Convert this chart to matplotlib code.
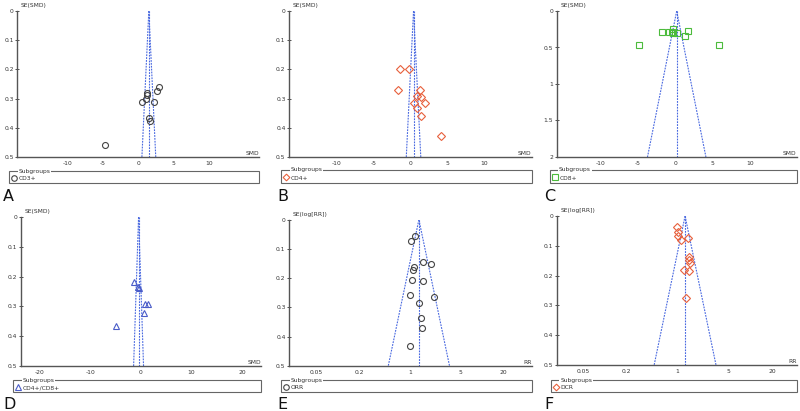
import numpy as np
import matplotlib
matplotlib.use('Agg')
import matplotlib.pyplot as plt
from matplotlib.patches import Rectangle
from matplotlib.lines import Line2D

# Panel A - CD3+
a_smd = [2.96, 2.63, 1.22, 1.31, 1.17, 0.52, 2.21, 1.55, 1.74, -4.69]
a_se = [0.260, 0.274, 0.281, 0.288, 0.301, 0.313, 0.310, 0.366, 0.377, 0.459]
a_center = 1.51
# Panel B - CD4+
b_smd = [-1.40, -0.18, -1.67, 1.35, 0.86, 1.44, 0.54, 1.94, 0.86, 1.49, 4.10]
b_se = [0.199, 0.200, 0.272, 0.269, 0.291, 0.293, 0.315, 0.315, 0.331, 0.360, 0.429]
b_center = 0.43
# Panel C - CD8+
c_smd = [-4.91, 5.89, -1.74, -0.85, -0.36, -0.40, -0.27, 0.18, 1.34, 1.74]
c_se = [0.465, 0.460, 0.290, 0.283, 0.250, 0.290, 0.305, 0.305, 0.337, 0.273]
c_center = 0.2
# Panel D - CD4+/CD8+
d_smd = [-1.32, -0.66, -0.39, 0.72, 1.32, 0.53, -5.0]
d_se = [0.217, 0.234, 0.239, 0.291, 0.292, 0.323, 0.367]
d_center = -0.45
# Panel E - ORR
e_rr = [1.17, 1.04, 1.53, 1.94, 1.15, 1.11, 1.05, 1.53, 0.99, 2.13, 1.33, 1.41, 1.48, 0.99]
e_se = [0.054, 0.072, 0.146, 0.151, 0.163, 0.173, 0.205, 0.210, 0.257, 0.265, 0.286, 0.336, 0.371, 0.432]
e_center = 1.33
# Panel F - DCR
f_rr = [0.99, 1.03, 1.02, 1.11, 1.42, 1.43, 1.46, 1.51, 1.25, 1.45, 1.30]
f_se = [0.036, 0.053, 0.067, 0.082, 0.073, 0.139, 0.149, 0.158, 0.181, 0.183, 0.276]
f_center = 1.28

W, H = 800, 411
fig = plt.figure(figsize=(W / 100, H / 100), dpi=100)
fig.patch.set_facecolor('white')

axis_col = '#555555'
funnel_col = '#4868e0'
fs = 4.3


def px_axes(left, top, right, bottom):
    return fig.add_axes([left / W, 1 - bottom / H, (right - left) / W, (bottom - top) / H])


def legend_box(left, right, top, bottom, marker, color, label):
    mid = (top + bottom) / 2
    fig.add_artist(Rectangle((left / W, 1 - bottom / H), (right - left) / W, (bottom - top) / H,
                             transform=fig.transFigure, fill=False, edgecolor='#666666', lw=0.8))
    fig.text((left + 9.5) / W, 1 - top / H, 'Subgroups', fontsize=4.3, color='#333333',
             va='center', ha='left', zorder=5,
             bbox=dict(facecolor='white', edgecolor='none', pad=0.6))
    ms = 3.4 if marker == 'D' else 4.0
    fig.add_artist(Line2D([(left + 5) / W], [1 - (mid + 0.5) / H], transform=fig.transFigure,
                          marker=marker, markersize=ms, mfc='none', mec=color, mew=0.8, ls='none',
                          zorder=6))
    fig.text((left + 10) / W, 1 - (mid + 1.5) / H, label, fontsize=4.3, color='#333333',
             va='center', ha='left', zorder=6)


def style_axes(ax, xlabel, ylabel, ymax, yticks, ylabels, xticks, xlabels):
    for s in ['top', 'right']:
        ax.spines[s].set_visible(False)
    for s in ['left', 'bottom']:
        ax.spines[s].set_color(axis_col)
        ax.spines[s].set_linewidth(1.0)
    ax.set_ylim(ymax, 0)
    ax.set_yticks(yticks)
    ax.set_yticklabels(ylabels)
    ax.set_xticks(xticks)
    ax.set_xticklabels(xlabels)
    ax.minorticks_off()
    ax.tick_params(axis='y', direction='inout', length=3, width=0.6, labelsize=fs,
                   colors='#333333', pad=1)
    ax.tick_params(axis='x', direction='out', length=0, labelsize=fs, colors='#333333', pad=3)
    ax.text(1.0, 0.01, xlabel, transform=ax.transAxes, ha='right', va='bottom',
            fontsize=fs, color='#333333')
    ax.annotate(ylabel, xy=(0, 1), xycoords='axes fraction', xytext=(2.5, 4),
                textcoords='offset points', ha='left', va='center', fontsize=fs, color='#333333')
    ax.patch.set_alpha(0)


def funnel(ax, center, ymax, log=False):
    dash = (0, (1.6, 1.0))
    ax.plot([center, center], [0, ymax], ls=dash, color=funnel_col, lw=0.8)
    if log:
        lo = np.exp(np.log(center) - 1.96 * ymax)
        hi = np.exp(np.log(center) + 1.96 * ymax)
    else:
        lo = center - 1.96 * ymax
        hi = center + 1.96 * ymax
    ax.plot([center, lo], [0, ymax], ls=dash, color=funnel_col, lw=0.8)
    ax.plot([center, hi], [0, ymax], ls=dash, color=funnel_col, lw=0.8)


y05 = [0, 0.1, 0.2, 0.3, 0.4, 0.5]
y05_lab = ['0', '0.1', '0.2', '0.3', '0.4', '0.5']
smd_ticks = [-10, -5, 0, 5, 10]
rr_ticks = [0.05, 0.2, 1, 5, 20]
rr_labels = ['0.05', '0.2', '1', '5', '20']

panels = [
    dict(box=(17.3, 11, 259, 157), x=a_smd, se=a_se, c=a_center, ymax=0.5, xlim=(-17.1, 17.1), log=False,
         m='o', col='#444444', lab='CD3+', xl='SMD', yl='SE(SMD)', yt=y05, ytl=y05_lab,
         xt=smd_ticks, xtl=[str(v) for v in smd_ticks], leg=(9, 259, 171, 183), letter=('A', 3, 196)),
    dict(box=(289, 11, 531.7, 157), x=b_smd, se=b_se, c=b_center, ymax=0.5, xlim=(-16.4, 16.4), log=False,
         m='D', col='#e8603c', lab='CD4+', xl='SMD', yl='SE(SMD)', yt=y05, ytl=y05_lab,
         xt=smd_ticks, xtl=[str(v) for v in smd_ticks], leg=(281, 531.7, 170, 183), letter=('B', 277, 196)),
    dict(box=(556.7, 11, 796.7, 157), x=c_smd, se=c_se, c=c_center, ymax=2.0, xlim=(-15.9, 16.3), log=False,
         m='s', col='#4cbb3c', lab='CD8+', xl='SMD', yl='SE(SMD)', yt=[0, 0.5, 1, 1.5, 2],
         ytl=['0', '0.5', '1', '1.5', '2'],
         xt=smd_ticks, xtl=[str(v) for v in smd_ticks], leg=(549.5, 796.7, 170, 183), letter=('C', 544, 196)),
    dict(box=(20.7, 217, 261, 366), x=d_smd, se=d_se, c=d_center, ymax=0.5, xlim=(-23.7, 23.7), log=False,
         m='^', col='#4a5cc8', lab='CD4+/CD8+', xl='SMD', yl='SE(SMD)', yt=y05, ytl=y05_lab,
         xt=[-20, -10, 0, 10, 20], xtl=['-20', '-10', '0', '10', '20'], leg=(13, 261, 380, 392.3),
         letter=('D', 3, 404)),
    dict(box=(289, 219.7, 531.7, 366), x=e_rr, se=e_se, c=e_center, ymax=0.5, xlim=(0.0209, 49), log=True,
         m='o', col='#444444', lab='ORR', xl='RR', yl='SE(log[RR])', yt=y05, ytl=y05_lab,
         xt=rr_ticks, xtl=rr_labels, leg=(281, 531.7, 380, 392.3), letter=('E', 277, 404)),
    dict(box=(556.7, 216, 796.7, 365), x=f_rr, se=f_se, c=f_center, ymax=0.5, xlim=(0.0219, 44), log=True,
         m='D', col='#e8603c', lab='DCR', xl='RR', yl='SE(log[RR])', yt=y05, ytl=y05_lab,
         xt=rr_ticks, xtl=rr_labels, leg=(550.7, 796.7, 380, 392.3), letter=('F', 544, 404)),
]

for p in panels:
    ax = px_axes(*p['box'])
    if p['log']:
        ax.set_xscale('log')
    ax.set_xlim(*p['xlim'])
    funnel(ax, p['c'], p['ymax'], log=p['log'])
    ms = 3.6 if p['m'] == 'D' else 4.3
    ax.plot(p['x'], p['se'], ls='none', marker=p['m'], markersize=ms, mfc='none',
            mec=p['col'], mew=0.8, zorder=3, clip_on=False)
    style_axes(ax, p['xl'], p['yl'], p['ymax'], p['yt'], p['ytl'], p['xt'], p['xtl'])
    legend_box(*p['leg'], p['m'], p['col'], p['lab'])
    letter, lx, ly = p['letter']
    fig.text(lx / W, 1 - ly / H, letter, fontsize=11.5, color='#111111', ha='left', va='center')

fig.savefig('out.png', dpi=100, facecolor='white')
